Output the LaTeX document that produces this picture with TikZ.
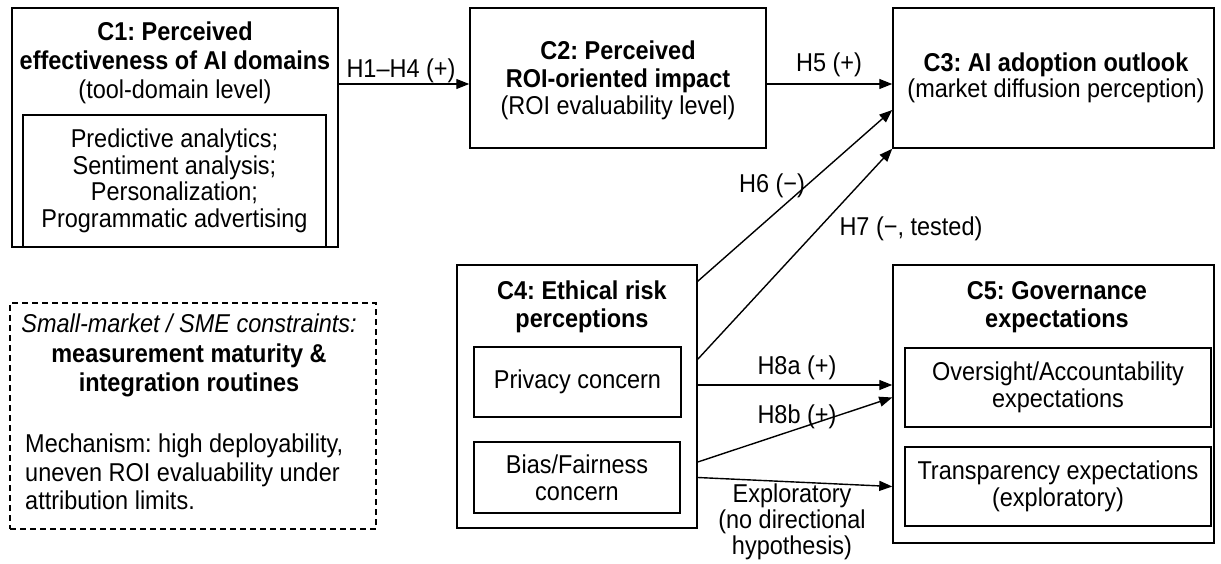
\documentclass[tikz,border=0pt]{standalone}
\usepackage{fontspec}
\setmainfont[FakeStretch=0.91]{Liberation Sans}
\usetikzlibrary{arrows.meta,positioning,calc}
\frenchspacing

\begin{document}
\begin{tikzpicture}[x=1pt,y=-1pt,
    >={Triangle[length=13pt,width=10pt]},
    every node/.style={font=\fontsize{25.8}{27}\selectfont},
    box/.style={draw,rectangle,line width=1.5pt,inner sep=0pt,align=center},
    txt/.style={inner sep=0pt,align=center},
    link/.style={line width=1.4pt,->}]
  \useasboundingbox (0,0) rectangle (1221,564);

  % constructs
  \node[box,minimum width=326pt,minimum height=239pt] (c1) at (175,127.5) {};
  \node[txt,anchor=north,font=\fontsize{25.8}{29}\selectfont] (c1t) at (175,22)
    {\textbf{C1: Perceived}\\\textbf{effectiveness of AI domains}\\(tool-domain level)};
  \node[box,minimum width=303pt,minimum height=132pt,font=\fontsize{25.8}{26.5}\selectfont] (c1d) at (174.5,181)
    {Predictive analytics;\\Sentiment analysis;\\Personalization;\\Programmatic advertising};

  \node[box,minimum width=296pt,minimum height=140pt] (c2) at (618,78) {};
  \node[txt,anchor=north,font=\fontsize{25.8}{27.5}\selectfont] (c2t) at (618,41)
    {\textbf{C2: Perceived}\\\textbf{ROI-oriented impact}\\(ROI evaluability level)};

  \node[box,minimum width=321pt,minimum height=140pt] (c3) at (1053.5,78) {};
  \node[txt,anchor=north,font=\fontsize{25.8}{26}\selectfont] (c3t) at (1056,53)
    {\textbf{C3: AI adoption outlook}\\(market diffusion perception)};

  \node[box,minimum width=240pt,minimum height=263pt] (c4) at (577,396.5) {};
  \node[txt,anchor=north,font=\bfseries\fontsize{25.8}{28}\selectfont] (c4t) at (582,281)
    {C4: Ethical risk\\perceptions};
  \node[box,minimum width=207pt,minimum height=70pt] (privacy) at (577.5,382) {Privacy concern};
  \node[box,minimum width=206pt,minimum height=71pt] (bias) at (577,477.5) {Bias/Fairness\\concern};

  \node[box,minimum width=321pt,minimum height=278pt] (c5) at (1053.5,404) {};
  \node[txt,anchor=north,font=\bfseries\fontsize{25.8}{28}\selectfont] (c5t) at (1057,281)
    {C5: Governance\\expectations};
  \node[box,minimum width=306pt,minimum height=79pt] (oversight) at (1058,387.5)
    {Oversight/Accountability\\expectations};
  \node[box,minimum width=306pt,minimum height=79pt] (transp) at (1058,486.5)
    {Transparency expectations\\(exploratory)};

  % context box
  \node[box,line width=1.2pt,dash pattern=on 6pt off 4pt,minimum width=366pt,minimum height=226pt] (sme) at (193,416) {};
  \node[txt,anchor=north,font=\fontsize{25.8}{29.5}\selectfont] (smet) at (189,314)
    {\textit{Small-market / SME constraints:}\\\textbf{measurement maturity \&}\\\textbf{integration routines}};
  \node[txt,anchor=north west,align=left,font=\fontsize{25.8}{28.5}\selectfont] (mech) at (25,434)
    {Mechanism: high deployability,\\uneven ROI evaluability under\\attribution limits.};

  % hypotheses
  \draw[link] ($(c2.west -| c1.east)+(0,6)$) -- ($(c2.west)+(0,6)$);
  \node[anchor=base] (h14) at (401,78) {H1–H4 (+)};

  \draw[link] ($(c2.east)+(0,6)$) -- ($(c3.west)+(0,6)$);
  \node[anchor=base] (h5) at (829,72) {H5 (+)};

  \draw[link] ($(c4.north east)+(0,17)$) -- ($(c3.west)+(0,32)$);
  \node[anchor=base] (h6) at (772,193) {H6 (−)};

  \draw[link] ($(c4.north east)+(0,95)$) -- (c3.south west);
  \node[anchor=base west] (h7) at (836,236) {H7 (−, tested)};

  \draw[link] ($(privacy.east -| c4.east)+(0,3)$) -- ($(privacy.east -| c5.west)+(0,3)$);
  \node[anchor=base] (h8a) at (797,374) {H8a (+)};

  \draw[link] ($(bias.east -| c4.east)+(0,-15.5)$) -- ($(oversight.west -| c5.west)+(0,10)$);
  \node[anchor=base] (h8b) at (797,423) {H8b (+)};

  \draw[link] (bias.east -| c4.east) -- (transp.west -| c5.west);
  \node[txt,anchor=north,font=\fontsize{25.8}{26}\selectfont] (expl) at (792,484)
    {Exploratory\\(no directional\\hypothesis)};
\end{tikzpicture}
\end{document}
